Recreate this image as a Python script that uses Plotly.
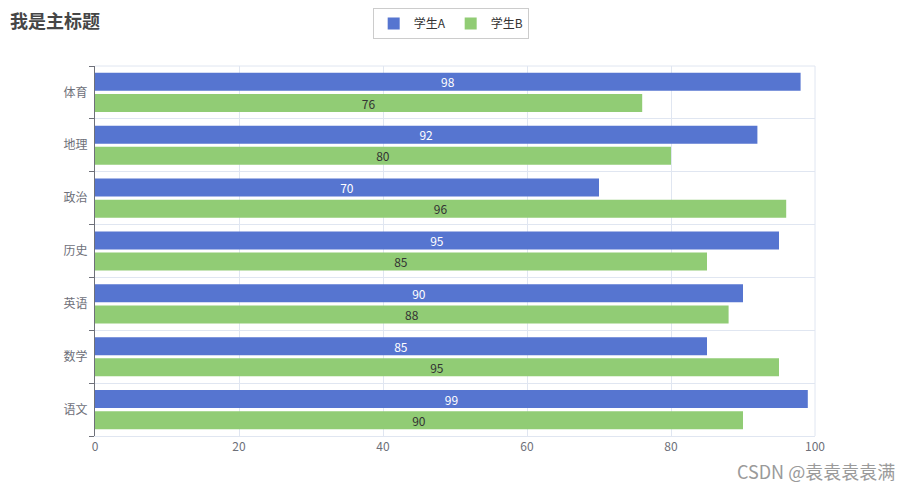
import plotly.graph_objects as go

categories = ["语文", "数学", "英语", "历史", "政治", "地理", "体育"]
student_a = [99, 85, 90, 95, 70, 92, 98]
student_b = [90, 95, 88, 85, 96, 80, 76]
x_ticks = [0, 20, 40, 60, 80, 100]

font_family = "Noto Sans CJK SC, Noto Sans, sans-serif"

fig = go.Figure()
fig.add_trace(go.Bar(
    name="学生B", y=categories, x=student_b, orientation="h",
    marker=dict(color="#91cc75", line=dict(width=0)),
    text=student_b, textposition="inside", insidetextanchor="middle", textangle=0,
    textfont=dict(color="#333333", size=12, family=font_family),
    hoverinfo="x+y+name",
))
fig.add_trace(go.Bar(
    name="学生A", y=categories, x=student_a, orientation="h",
    marker=dict(color="#5675d0", line=dict(width=0)),
    text=student_a, textposition="inside", insidetextanchor="middle", textangle=0,
    textfont=dict(color="#ffffff", size=12, family=font_family),
    hoverinfo="x+y+name",
))

# page body has an 8px margin, so the figure is sized/offset to compensate
fig.update_layout(
    width=905, height=482,
    margin=dict(l=87, r=98, t=58, b=54),
    paper_bgcolor="white", plot_bgcolor="white",
    font=dict(family=font_family, color="#6e7079", size=12),
    barmode="group", bargap=0.2, bargroupgap=0.15,
    uniformtext=dict(mode="show", minsize=12),
    legend=dict(orientation="h", x=0.494, xanchor="center", y=1.0, yref="container", yanchor="top",
                traceorder="reversed", bordercolor="#cccccc", borderwidth=1,
                font=dict(size=12, color="#333333"), itemwidth=30),
    showlegend=True,
    xaxis=dict(range=[0, 100], tickvals=x_ticks, showgrid=True, gridcolor="#e0e6f1",
               zeroline=False, showline=True, linecolor="#e0e6f1", ticks="",
               tickfont=dict(size=12, color="#6e7079"), fixedrange=True),
    yaxis=dict(type="category", categoryorder="array", categoryarray=categories,
               tickson="boundaries", showgrid=True, gridcolor="#e0e6f1",
               showline=True, linecolor="#6e7079", linewidth=1,
               ticks="outside", ticklen=5, tickcolor="#6e7079",
               ticklabelstandoff=4,
               tickfont=dict(size=12, color="#6e7079"), fixedrange=True),
)
fig.add_shape(type="line", xref="paper", yref="paper", x0=0, x1=1, y0=1, y1=1,
              line=dict(color="#e0e6f1", width=1))
fig.add_shape(type="line", xref="paper", yref="paper", x0=1, x1=1, y0=0, y1=1,
              line=dict(color="#e0e6f1", width=1))

# main title
fig.add_annotation(text="<b>我是主标题</b>", xref="paper", yref="paper", x=-0.1205, y=1.124,
                   xanchor="left", yanchor="middle", showarrow=False,
                   font=dict(size=18, color="#464646", family=font_family))

# watermark
fig.add_annotation(text="CSDN @袁袁袁袁满", xref="paper", yref="paper", x=1.114, y=-0.095,
                   xanchor="right", yanchor="middle", showarrow=False,
                   font=dict(size=18, color="#9a9a9a", family=font_family))

fig.write_html("out.html")
